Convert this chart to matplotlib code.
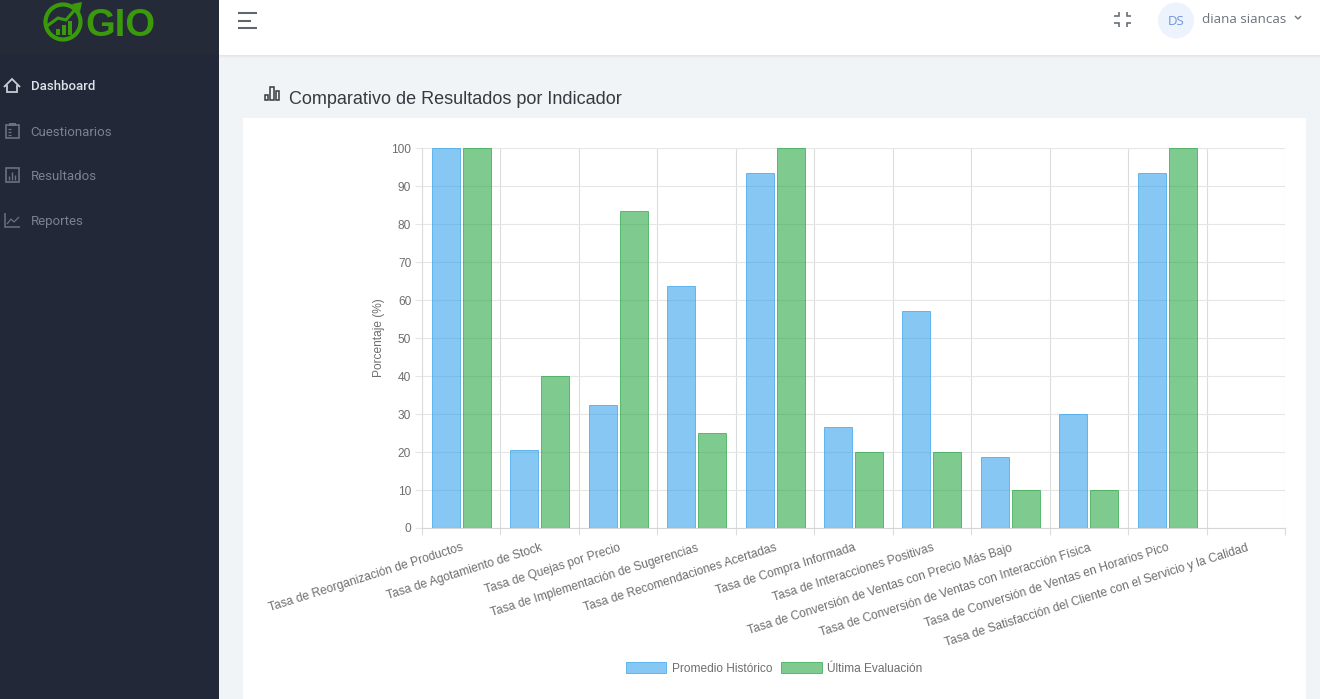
import matplotlib
matplotlib.use('Agg')
import matplotlib.pyplot as plt
from matplotlib.patches import Rectangle, Circle, Polygon

categories = [
    'Tasa de Reorganización de Productos',
    'Tasa de Agotamiento de Stock',
    'Tasa de Quejas por Precio',
    'Tasa de Implementación de Sugerencias',
    'Tasa de Recomendaciones Acertadas',
    'Tasa de Compra Informada',
    'Tasa de Interacciones Positivas',
    'Tasa de Conversión de Ventas con Precio Más Bajo',
    'Tasa de Conversión de Ventas con Interacción Física',
    'Tasa de Conversión de Ventas en Horarios Pico',
    'Tasa de Satisfacción del Cliente con el Servicio y la Calidad',
]
promedio = [100, 20.6, 32.3, 63.8, 93.3, 26.6, 57.1, 18.8, 30, 93.3, 0]
ultima = [100, 40, 83.3, 25, 100, 20, 20, 10, 10, 100, 0]
menu_items = ['Dashboard', 'Cuestionarios', 'Resultados', 'Reportes']

W, H = 1320, 699
SIDE = '#232838'
MUTED = '#7A8191'
ICON = '#6A7180'
GREY = '#6E6E6E'
GRID_H = '#E6E6E6'
GRID_V = '#DCDCDC'

plt.rcParams['font.family'] = ['Liberation Sans', 'DejaVu Sans']
fig = plt.figure(figsize=(W / 100, H / 100), dpi=100)

# page drawn in pixel coordinates
ui = fig.add_axes([0, 0, 1, 1], zorder=0)
ui.set_xlim(0, W)
ui.set_ylim(H, 0)
ui.axis('off')


def box(x, y, w, h, color, **kw):
    ui.add_patch(Rectangle((x, y), w, h, facecolor=color, edgecolor='none', **kw))


def line(xs, ys, color=ICON, lw=1.1):
    ui.plot(xs, ys, color=color, lw=lw, solid_capstyle='butt', solid_joinstyle='miter')


box(0, 0, W, H, '#F1F4F7')
# soft shadow under the top bar
for i, c in enumerate(['#E4E7EA', '#E9ECEF', '#EDF0F3']):
    box(219, 55 + i, W - 219, 1, c)
box(219, 0, W - 219, 55, 'white')
box(0, 0, 219, H, SIDE)
box(0, 0, 219, 55, '#252A39')
box(243, 118, 1063, 581, 'white')

# logo
GREEN = '#3A9A0C'
ui.add_patch(Circle((63, 22), 17.5, facecolor='none', edgecolor=GREEN, lw=3))
for bx, bh in [(56, 6), (62, 10), (68, 14)]:
    box(bx, 35 - bh, 4, bh, GREEN)
line([47, 58, 66, 78], [26, 18, 20, 6], GREEN, 2.2)
ui.add_patch(Polygon([[72, 4], [82, 2], [80, 12]], facecolor=GREEN, edgecolor='none'))
ui.text(85, 26, 'GIO', color=GREEN, fontsize=27.5, fontweight='bold', va='center', ha='left')

# sidebar menu
for i, (label, y) in enumerate(zip(menu_items, [87, 132, 176, 221])):
    ui.text(30.5, y, label, family=['Roboto', 'DejaVu Sans'], fontsize=9.5,
            fontweight='medium' if i == 0 else 'normal',
            color='#DDE1E8' if i == 0 else MUTED, va='center', ha='left')

line([4, 12, 20], [87, 79, 87], '#C9CDD5', 1.3)
line([7, 7, 17, 17], [85, 92, 92, 85], '#C9CDD5', 1.3)
ui.add_patch(Rectangle((6, 125), 13, 13, facecolor='none', edgecolor=ICON, lw=1.2))
box(9, 123, 7, 3, ICON)
for yy in [129, 132, 135]:
    line([8, 11], [yy, yy], ICON, 0.9)
ui.add_patch(Rectangle((6, 168), 13, 14, facecolor='none', edgecolor=ICON, lw=1.2))
for xx, top in [(9, 176), (12, 172), (15, 175)]:
    line([xx, xx], [top, 180], ICON, 1)
line([5, 5, 20], [213, 227, 227], ICON, 1.1)
line([7, 11, 14, 19], [224, 219, 222, 217], ICON, 0.9)

# top bar
for x0, x1, yy in [(238, 257, 13), (238, 251, 21), (238, 257, 28)]:
    line([x0, x1], [yy, yy], '#5F6670', 1.5)
for sx, sy in [(1114, 12), (1131, 12), (1114, 27), (1131, 27)]:
    ex = 1119 if sx < 1125 else 1127
    ey = 16 if sy < 20 else 23
    line([sx, ex, ex], [ey, ey, sy], '#6A7078', 1.2)
ui.add_patch(Circle((1176, 20.5), 18, facecolor='#EDF3FC', edgecolor='none'))
ui.text(1176, 21.5, 'DS', family=['Open Sans', 'DejaVu Sans'], fontsize=9.5, color='#6F95DC',
        ha='center', va='center')
ui.text(1202, 19.5, 'diana siancas', family=['Open Sans', 'DejaVu Sans'], fontsize=9.7,
        color='#6C757D', ha='left', va='center')
line([1295, 1298, 1301], [16, 19, 16], '#6C757D', 1)

# card title
for bx, by, bw, bh in [(265, 95, 3, 5), (270, 87, 4, 13), (276, 91, 3, 9)]:
    ui.add_patch(Rectangle((bx, by), bw, bh, facecolor='none', edgecolor='#343A40', lw=1.1))
ui.text(289, 99, 'Comparativo de Resultados por Indicador', fontsize=13.0, color='#343A40',
        ha='left', va='center')

# chart
ax = fig.add_axes([422 / W, 1 - 528 / H, (1285 - 422) / W, (528 - 148) / H], zorder=1)
ax.patch.set_alpha(0)
bar_w = 0.357
offset = 0.198
xpos = list(range(len(categories)))
bars1 = ax.bar([x - offset for x in xpos], promedio, bar_w, color=(54 / 255, 162 / 255, 235 / 255, 0.6),
               edgecolor=(54 / 255, 162 / 255, 235 / 255, 0.7), linewidth=0.7,
               label='Promedio Histórico', zorder=3)
bars2 = ax.bar([x + offset for x in xpos], ultima, bar_w, color=(40 / 255, 167 / 255, 69 / 255, 0.6),
               edgecolor=(40 / 255, 167 / 255, 69 / 255, 0.7), linewidth=0.7,
               label='Última Evaluación', zorder=3)

ax.set_xlim(-0.5, len(categories) - 0.5)
ax.set_ylim(0, 100)
ax.set_yticks(range(0, 101, 10))
ax.set_xticks([x - 0.5 for x in range(len(categories) + 1)])
ax.set_xticklabels([])
ax.set_xticks(xpos, minor=True)
ax.set_xticklabels(categories, minor=True, rotation=17.5, ha='right', rotation_mode='anchor',
                   fontsize=8.67, color=GREY)
ax.tick_params(axis='x', which='major', length=5, width=0.8, color=GRID_V)
ax.tick_params(axis='x', which='minor', length=0, pad=10)
ax.tick_params(axis='y', length=5, width=0.8, color=GRID_H, labelsize=8.6, labelcolor=GREY, pad=2.8)
ax.grid(True, axis='y', color=GRID_H, lw=0.8, zorder=0)
ax.grid(True, axis='x', color=GRID_V, lw=0.8, zorder=0)
ax.set_axisbelow(True)
for side in ['top', 'right']:
    ax.spines[side].set_visible(False)
ax.spines['left'].set_color(GRID_V)
ax.spines['bottom'].set_color('#D5D5D5')
ax.set_ylabel('Porcentaje (%)', fontsize=8.6, color=GREY, labelpad=4.5)

leg = fig.legend(handles=[bars1, bars2], loc='center', bbox_to_anchor=(774 / W, 1 - 668.5 / H),
                 ncol=2, frameon=False, fontsize=8.6, labelcolor=GREY, handlelength=3.4,
                 handleheight=1.05, handletextpad=0.45, columnspacing=0.75, borderpad=0,
                 borderaxespad=0)

fig.savefig('out.png', dpi=100)
